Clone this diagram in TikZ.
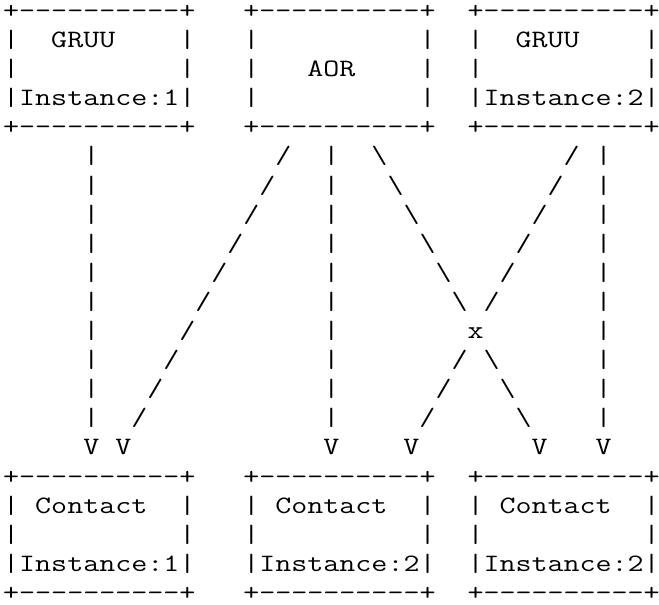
\documentclass[tikz,border=0pt]{standalone}
\usepackage{fontspec}
\setmonofont{Latin Modern Mono}[FakeStretch=1.2437]
\newcommand\gap[1]{\hspace*{#1\fontcharwd\font`x}}
\newcommand\bs{\textbackslash}
\begin{document}
\begin{tikzpicture}[x=1pt,y=1pt,
  asciirow/.style={anchor=base west, inner sep=0pt, text=black,
    font=\ttfamily\fontsize{25pt}{29pt}\selectfont}]
\fill[white] (0,0) rectangle (659,605);
\useasboundingbox (0,0) rectangle (659,605);
\newcommand\arow[3]{\node[asciirow] (#1) at (3,{586.5-29.1*#2}) {#3};}
\arow{l0}{0}{+----------+\gap3+----------+\gap2+----------+}
\arow{l1}{1}{|\gap2GRUU\gap4|\gap3|\gap{10}|\gap2|\gap2GRUU\gap4|}
\arow{l2}{2}{|\gap{10}|\gap3|\gap3AOR\gap4|\gap2|\gap{10}|}
\arow{l3}{3}{|Instance:1|\gap3|\gap{10}|\gap2|Instance:2|}
\arow{l4}{4}{+----------+\gap3+----------+\gap2+----------+}
\arow{l5}{5}{\gap5|\gap{11}/\gap2|\gap2\bs\gap{11}/\gap1|}
\arow{l6}{6}{\gap5|\gap{10}/\gap3|\gap3\bs\gap9/\gap2|}
\arow{l7}{7}{\gap5|\gap9/\gap4|\gap4\bs\gap7/\gap3|}
\arow{l8}{8}{\gap5|\gap8/\gap5|\gap5\bs\gap5/\gap4|}
\arow{l9}{9}{\gap5|\gap7/\gap6|\gap6\bs\gap3/\gap5|}
\arow{l10}{10}{\gap5|\gap6/\gap7|\gap7\bs\gap1/\gap6|}
\arow{l11}{11}{\gap5|\gap5/\gap8|\gap8x\gap7|}
\arow{l12}{12}{\gap5|\gap4/\gap9|\gap7/\gap1\bs\gap6|}
\arow{l13}{13}{\gap5|\gap3/\gap{10}|\gap6/\gap3\bs\gap5|}
\arow{l14}{14}{\gap5|\gap2/\gap{11}|\gap5/\gap5\bs\gap4|}
\arow{l15}{15}{\gap5V\gap1V\gap{12}V\gap4V\gap7V\gap3V}
\arow{l16}{16}{+----------+\gap3+----------+\gap2+----------+}
\arow{l17}{17}{|\gap1Contact\gap2|\gap3|\gap1Contact\gap2|\gap2|\gap1Contact\gap2|}
\arow{l18}{18}{|\gap{10}|\gap3|\gap{10}|\gap2|\gap{10}|}
\arow{l19}{19}{|Instance:1|\gap3|Instance:2|\gap2|Instance:2|}
\arow{l20}{20}{+----------+\gap3+----------+\gap2+----------+}
\end{tikzpicture}
\end{document}
